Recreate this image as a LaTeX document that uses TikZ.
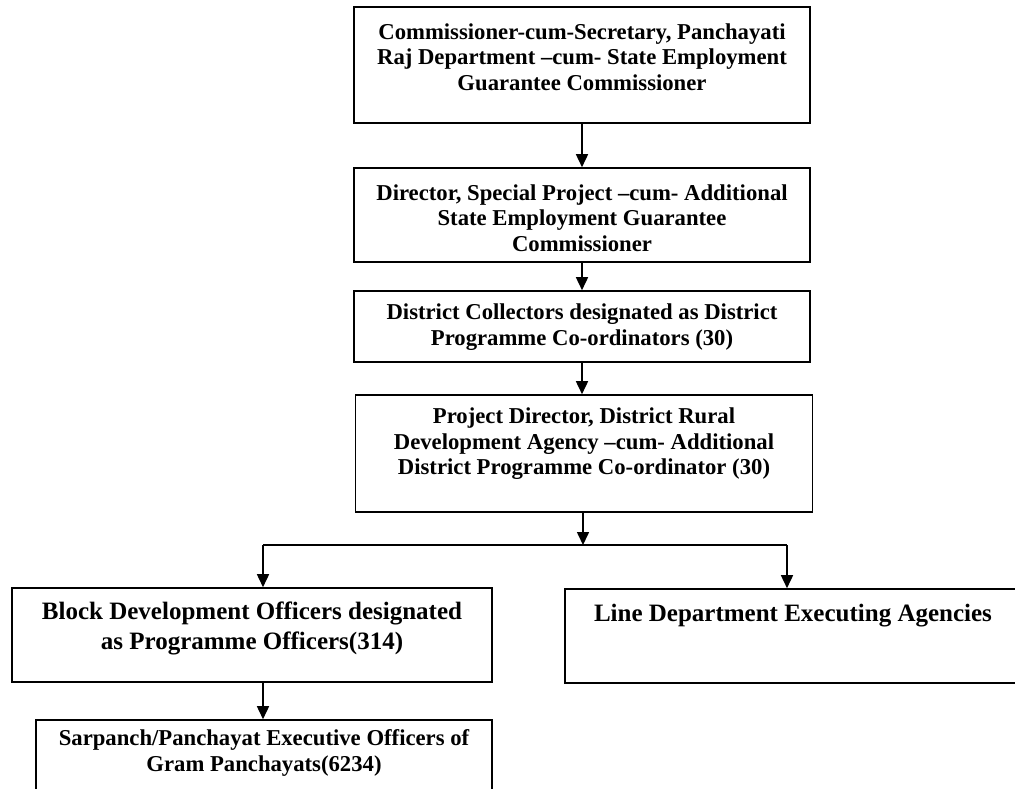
\documentclass[tikz,border=0pt]{standalone}
\usepackage{fontspec}
\setmainfont{Liberation Serif}
\usetikzlibrary{arrows.meta}
\begin{document}
\begin{tikzpicture}[x=1pt,y=-1pt,
  box/.style={draw, line width=1.6pt, inner sep=0pt},
  lbl/.style={align=center, font=\bfseries\fontsize{22.7}{25.5}\selectfont, inner sep=0pt},
  lblbig/.style={align=center, font=\bfseries\fontsize{25}{30}\selectfont, inner sep=0pt},
  arr/.style={line width=1.6pt, -{Triangle[length=13pt,width=12pt]}},
  ln/.style={line width=1.6pt}]
\useasboundingbox (0,0) rectangle (1015,788);
\clip (0,0) rectangle (1015,788);
% boxes
\node[box, minimum width=456pt, minimum height=116pt] (a) at (582,65) {};
\node[box, minimum width=456pt, minimum height=94pt] (b) at (582,215) {};
\node[box, minimum width=456pt, minimum height=71pt] (c) at (582,326.5) {};
\node[box, minimum width=457pt, minimum height=117pt] (d) at (584,453.5) {};
\node[box, minimum width=480pt, minimum height=94pt] (e) at (252,635) {};
\node[box, minimum width=456pt, minimum height=94pt] (f) at (793,636) {};
\node[box, minimum width=456pt, minimum height=100pt] (g) at (264,770) {};
% labels
\node[lbl] (ta) at (582,57) {Commissioner-cum-Secretary, Panchayati\\Raj Department –cum- State Employment\\Guarantee Commissioner};
\node[lbl] (tb) at (582,218) {Director, Special Project –cum- Additional\\State Employment Guarantee\\Commissioner};
\node[lbl] (tc) at (582,327) {District Collectors designated as District\\Programme Co-ordinators (30)};
\node[lbl] (td) at (584,444) {Project Director, District Rural\\Development Agency –cum- Additional\\District Programme Co-ordinator (30)};
\node[lblbig] (te) at (252,628) {Block Development Officers designated\\as Programme Officers(314)};
\node[lblbig] (tf) at (793,616) {Line Department Executing Agencies};
\node[lbl] (tg) at (264,753) {Sarpanch/Panchayat Executive Officers of\\Gram Panchayats(6234)};
% connectors
\coordinate (j) at (583,545);
\coordinate (jl) at (263,545);
\coordinate (jr) at (787,545);
\draw[arr] (a.south) -- (b.north);
\draw[arr] (b.south) -- (c.north);
\draw[arr] (c.south) -- (c.south |- d.north);
\draw[arr] (d.south -| j) -- (j);
\draw[ln] (jl) -- (jr);
\draw[arr] (jl) -- (jl |- e.north);
\draw[arr] (jr) -- (jr |- f.north);
\draw[arr] (jl |- e.south) -- (jl |- g.north);
\end{tikzpicture}
\end{document}
